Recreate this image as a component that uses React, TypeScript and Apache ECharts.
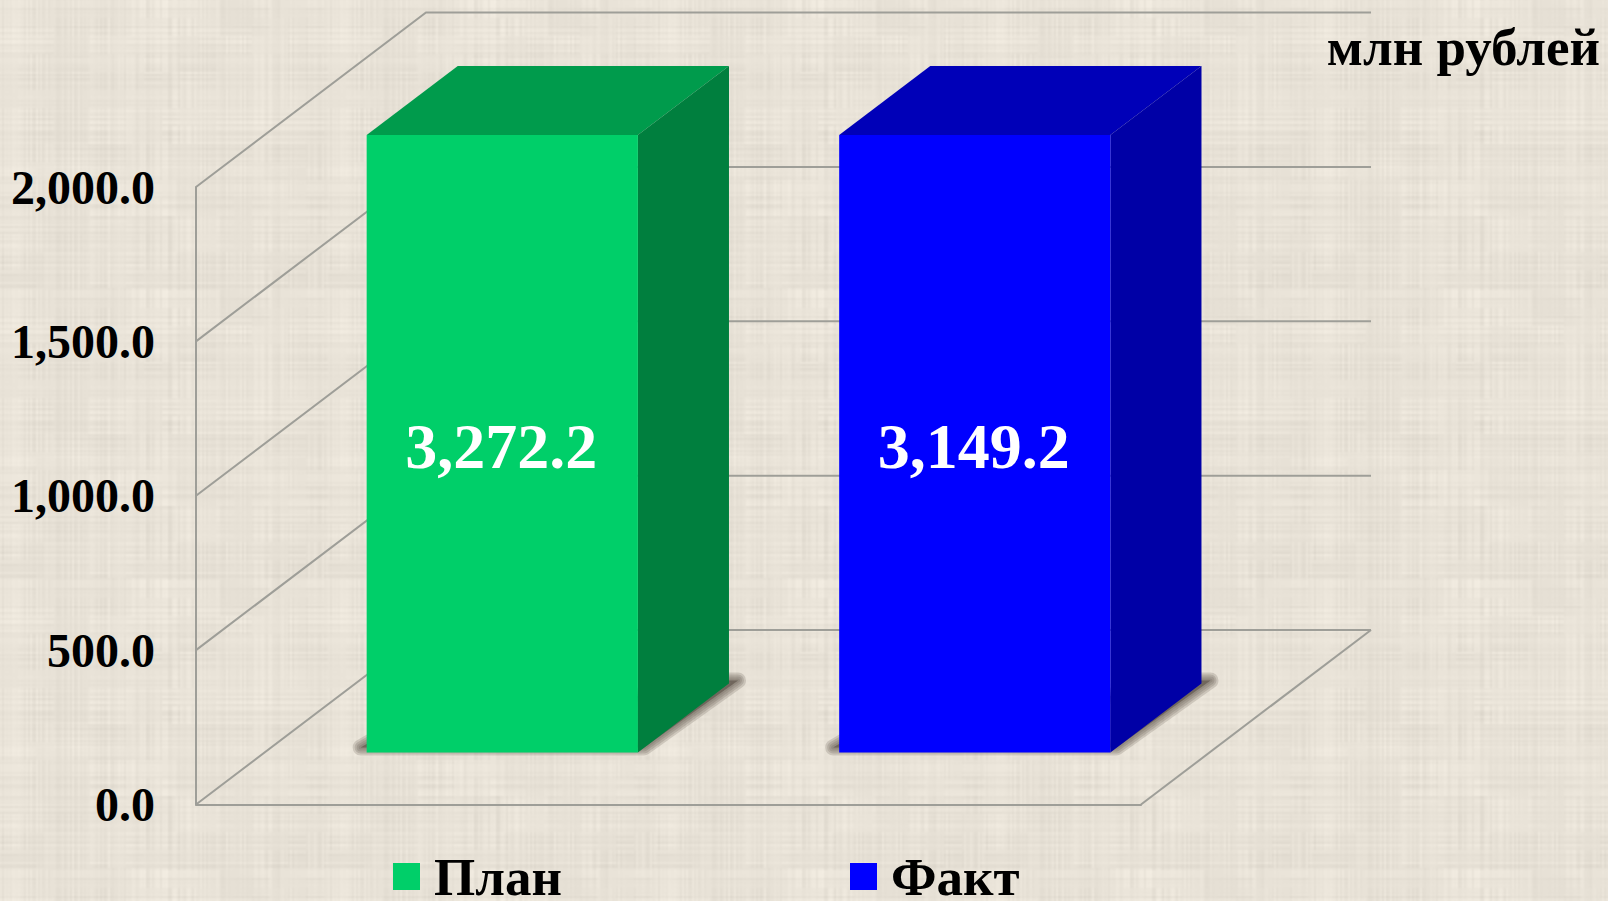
import React, { useEffect, useRef } from "react";
import * as echarts from "echarts";

const categories = ["План", "Факт"];
const planValues = [3272.2];
const factValues = [3149.2];
const yTicks = [0, 500, 1000, 1500, 2000];
const yMax = 2000;
const FONT = '"Liberation Serif", "Times New Roman", serif';
const INK = "#000000";
const GRID_LINE = "#9e9e98";
const DEPTH_X = 230;
const DEPTH_Y = 174.5;

const fmt = (v: number) =>
  v.toLocaleString("en-US", { minimumFractionDigits: 1, maximumFractionDigits: 1 });

// Deterministic linen-weave tile for the page background (decoration only).
const hash = (a: number, b: number) => {
  const s = Math.sin(a * 127.1 + b * 311.7) * 43758.5453;
  return s - Math.floor(s);
};
const makeTile = () => {
  const W = 164;
  const H = 145;
  const c = document.createElement("canvas");
  c.width = W;
  c.height = H;
  const ctx = c.getContext("2d")!;
  const img = ctx.createImageData(W, H);
  for (let y = 0; y < H; y++) {
    for (let x = 0; x < W; x++) {
      const col = hash(x, 1) - 0.5;
      const row = hash(2, y) - 0.5;
      const patchV = hash(Math.floor(x / 14), Math.floor(y / 9) + 40);
      const patchH = hash(Math.floor(x / 9) + 70, Math.floor(y / 14));
      const wave = 10 * col * (0.3 + patchV) + 10 * row * (0.3 + patchH);
      const tone = 4 * (hash(Math.floor(x / 22) + 9, Math.floor(y / 18) + 3) - 0.5);
      const i = (y * W + x) * 4;
      img.data[i] = 232 + wave + tone;
      img.data[i + 1] = 226 + wave + tone;
      img.data[i + 2] = 215 + wave + tone;
      img.data[i + 3] = 255;
    }
  }
  ctx.putImageData(img, 0, 0);
  return c.toDataURL("image/png");
};

const wallItem = (params: any, api: any) => {
  const v = api.value(0);
  const cs = params.coordSys;
  const y = api.coord([0, v])[1];
  const xl = cs.x;
  const xr = cs.x + cs.width;
  const children: any[] = [
    {
      type: "polyline",
      shape: { points: [[xl, y], [xl + DEPTH_X, y - DEPTH_Y], [xr + DEPTH_X, y - DEPTH_Y]] },
      style: { stroke: GRID_LINE, lineWidth: 2, fill: "none" },
    },
  ];
  if (v === 0) {
    children.push({
      type: "line",
      shape: { x1: xr, y1: y, x2: xr + DEPTH_X, y2: y - DEPTH_Y },
      style: { stroke: GRID_LINE, lineWidth: 2 },
    });
  }
  return { type: "group", children };
};

const barItem = (front: string, side: string, top: string) => (_params: any, api: any) => {
  const idx = api.value(0);
  const v = api.value(1);
  const base = api.coord([idx, 0]);
  const head = api.coord([idx, Math.min(v, yMax)]);
  const band = api.size([1, 0])[0];
  const w = band * 0.574;
  const zFront = 0.298;
  const zDepth = 0.396;
  const ox = DEPTH_X * zFront + 1.5;
  const oy = DEPTH_Y * zFront;
  const dx = DEPTH_X * zDepth;
  const dy = DEPTH_Y * zDepth;
  const l = base[0] - w / 2 + ox;
  const r = l + w;
  const b = base[1] - oy;
  const t = head[1] - oy;
  const shadow = [
    [l - 6, b - 5],
    [l + 6, b - 12],
    [r + dx, b - dy - 3],
    [r + dx + 9, b - dy - 3],
    [r + 6, b - 5],
  ];
  const shadowLayers = [16, 12, 8, 4].map((lineWidth) => ({
    type: "polygon",
    shape: { points: shadow },
    style: {
      fill: "rgba(90,82,70,0.2)",
      stroke: "rgba(90,82,70,0.2)",
      lineWidth,
      lineJoin: "round",
    },
  }));
  return {
    type: "group",
    children: [
      ...shadowLayers,
      {
        type: "polygon",
        shape: { points: [[l, t], [l + dx, t - dy], [r + dx, t - dy], [r, t]] },
        style: { fill: top },
      },
      {
        type: "polygon",
        shape: { points: [[r, t], [r + dx, t - dy], [r + dx, b - dy], [r, b]] },
        style: { fill: side },
      },
      { type: "rect", shape: { x: l, y: t, width: w, height: b - t }, style: { fill: front } },
      {
        type: "text",
        style: {
          x: (l + r) / 2 - 1,
          y: (t + b) / 2 + 3,
          text: fmt(v),
          fill: "#ffffff",
          font: `bold 64px ${FONT}`,
          align: "center",
          verticalAlign: "middle",
        },
      },
    ],
  };
};

export default function App() {
  const ref = useRef<HTMLDivElement>(null);
  useEffect(() => {
    document.body.style.margin = "0";
    document.body.style.overflow = "hidden";
    const el = ref.current!;
    el.style.backgroundImage = `url(${makeTile()})`;
    el.style.backgroundSize = "328px 290px";
    const chart = echarts.init(el, undefined, { renderer: "svg" });
    chart.setOption({
      animation: false,
      backgroundColor: "transparent",
      grid: { left: 196, top: 187, width: 945, height: 617.5, containLabel: false },
      xAxis: {
        type: "category",
        data: categories,
        axisLine: { show: true, lineStyle: { color: GRID_LINE, width: 2 } },
        axisTick: { show: false },
        axisLabel: { show: false },
        splitLine: { show: false },
      },
      yAxis: {
        type: "value",
        min: 0,
        max: yMax,
        interval: 500,
        axisLine: { show: true, lineStyle: { color: GRID_LINE, width: 2 } },
        axisTick: { show: false },
        splitLine: { show: false },
        axisLabel: {
          margin: 41,
          color: INK,
          fontFamily: FONT,
          fontWeight: "bold",
          fontSize: 48,
          padding: [2, 0, 0, 0],
          formatter: (v: number) => fmt(v),
        },
      },
      legend: {
        data: categories,
        left: 393,
        top: 850,
        itemWidth: 27,
        itemHeight: 27,
        itemGap: 288,
        icon: "rect",
        padding: 0,
        selectedMode: false,
        textStyle: {
          color: INK,
          fontFamily: FONT,
          fontWeight: "bold",
          fontSize: 53,
          lineHeight: 46,
          padding: [6, 0, 0, 9],
        },
      },
      graphic: [
        {
          type: "text",
          right: 8,
          top: 20,
          style: { text: "млн рублей", fill: INK, font: `bold 53px ${FONT}` },
        },
      ],
      series: [
        {
          type: "custom",
          name: "walls",
          data: yTicks.map((v) => [v]),
          encode: { y: 0 },
          renderItem: wallItem,
          clip: false,
          silent: true,
          z: 1,
        },
        {
          type: "custom",
          name: categories[0],
          data: planValues.map((v, i) => [i, v]),
          encode: { x: 0, y: 1 },
          itemStyle: { color: "#00cf69" },
          renderItem: barItem("#00cf69", "#007f3e", "#009b4c"),
          clip: false,
          z: 2,
        },
        {
          type: "custom",
          name: categories[1],
          data: factValues.map((v, i) => [i + 1, v]),
          encode: { x: 0, y: 1 },
          itemStyle: { color: "#0000ff" },
          renderItem: barItem("#0000ff", "#0000a6", "#0000b8"),
          clip: false,
          z: 2,
        },
      ],
    });
    return () => chart.dispose();
  }, []);
  return <div ref={ref} style={{ width: 1608, height: 901, backgroundColor: "#e8e2d7" }} />;
}
